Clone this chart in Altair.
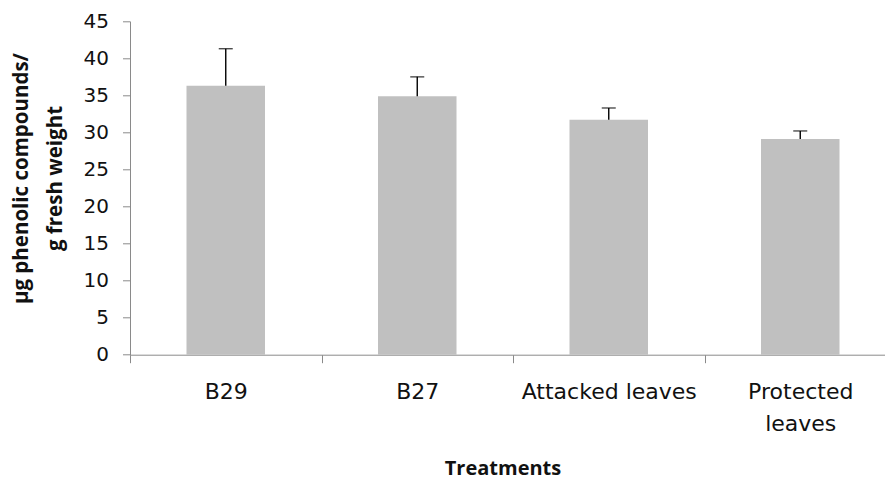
import altair as alt
import pandas as pd

# Total phenolic content per treatment (mean and standard deviation)
treatments = ["B29", "B27", "Attacked leaves", "Protected leaves"]
means = [36.3, 34.9, 31.7, 29.1]
errors = [5.0, 2.6, 1.6, 1.1]
y_ticks = [0, 5, 10, 15, 20, 25, 30, 35, 40, 45]

df = pd.DataFrame({"treatment": treatments, "mean": means, "err": errors})
df["upper"] = df["mean"] + df["err"]

label_font = "DejaVu Sans"
title_font = "Open Sans"
axis_grey = "#8a8a8a"

x_axis = alt.Axis(
    title="Treatments",
    tickBand="extent",
    tickSize=8,
    labelPadding=19,
    labelAngle=0,
    labelFont=label_font,
    labelFontSize=22,
    labelColor="#111111",
    labelBaseline="top",
    labelLineHeight=32,
    labelExpr="datum.value == 'Protected leaves' ? ['Protected', 'leaves'] : datum.label",
    titleFont=title_font,
    titleFontSize=20,
    titleFontWeight="bold",
    titleColor="#111111",
    titleX=372.5,
    titleY=120,
    titleBaseline="alphabetic",
    titleAlign="center",
    domainColor=axis_grey,
    tickColor=axis_grey,
    labelOverlap=False,
    labelLimit=300,
)
x_scale = alt.Scale(domain=treatments, range=[0, 766], paddingInner=0, paddingOuter=0)

y_axis = alt.Axis(
    title=["µg phenolic compounds/", "g fresh weight"],
    values=y_ticks,
    labelOverlap=False,
    labelFlush=False,
    grid=False,
    tickSize=7.5,
    labelPadding=14,
    labelFont=label_font,
    labelFontSize=20,
    labelColor="#111111",
    titleFont=title_font,
    titleFontSize=20.5,
    titleFontWeight="bold",
    titleColor="#111111",
    titleAngle=-90,
    titleX=-103,
    titleY=156.7,
    titleBaseline="alphabetic",
    titleAlign="center",
    titleLineHeight=34,
    domainColor=axis_grey,
    tickColor=axis_grey,
)
y_scale = alt.Scale(domain=[0, 45], nice=False, zero=True)


def x_enc():
    return alt.X("treatment:N", sort=treatments, scale=x_scale, axis=x_axis)


def y_enc(field):
    return alt.Y(field, type="quantitative", scale=y_scale, axis=y_axis)


bars = alt.Chart(df).mark_bar(size=78.5, color="#c0c0c0").encode(
    x=x_enc(),
    y=y_enc("mean"),
)

stems = alt.Chart(df).mark_rule(color="black", strokeWidth=1.4).encode(
    x=x_enc(),
    y=y_enc("mean"),
    y2="upper:Q",
)

caps = alt.Chart(df).mark_tick(color="black", size=14, thickness=1.4).encode(
    x=x_enc(),
    y=y_enc("upper"),
)

chart = (
    alt.layer(bars, stems, caps)
    .properties(
        width=755,
        height=333.4,
        autosize=alt.AutoSizeParams(type="none"),
        padding={"left": 130, "top": 21.3, "right": 0, "bottom": 124.3},
        background="white",
    )
    .configure_view(strokeWidth=0)
)

chart.save("out.html", embed_options={"renderer": "svg", "actions": False})
